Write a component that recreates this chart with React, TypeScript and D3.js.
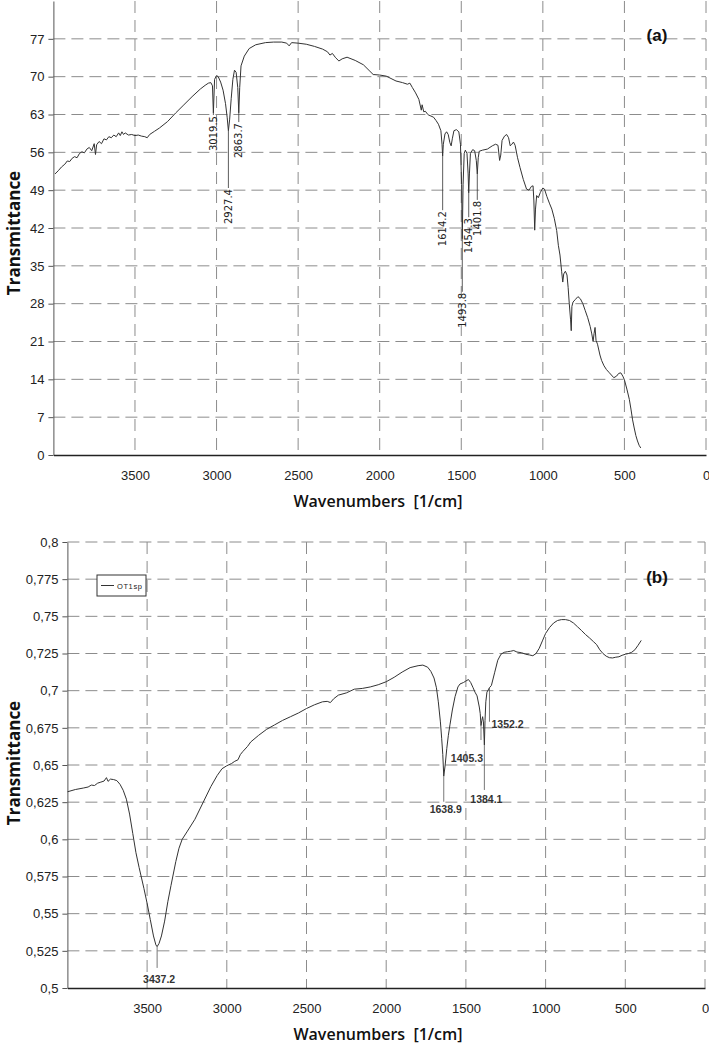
import React, { useRef, useEffect } from 'react';
import * as d3 from 'd3';

// Spectrum (a) - wavenumber [1/cm] / transmittance
const wnA = [3990, 3970, 3950, 3930, 3915, 3900, 3885, 3870, 3855, 3840, 3825, 3810, 3795, 3780, 3765, 3750, 3742, 3735, 3720, 3705, 3690, 3675, 3660, 3645, 3630, 3615, 3600, 3590, 3580, 3570, 3560, 3540, 3520, 3500, 3480, 3460, 3440, 3425, 3410, 3380, 3350, 3300, 3250, 3200, 3150, 3100, 3070, 3050, 3035, 3025, 3019.5, 3012, 3000, 2990, 2975, 2960, 2945, 2935, 2927.4, 2920, 2910, 2900, 2890, 2880, 2870, 2863.7, 2858, 2850, 2830, 2800, 2760, 2700, 2650, 2600, 2570, 2555, 2540, 2500, 2450, 2400, 2350, 2320, 2305, 2290, 2270, 2250, 2230, 2200, 2150, 2100, 2060, 2040, 2000, 1960, 1900, 1860, 1830, 1815, 1800, 1780, 1760, 1745, 1740, 1730, 1720, 1705, 1700, 1670, 1655, 1640, 1625, 1618, 1614.2, 1610, 1600, 1590, 1580, 1570, 1562, 1555, 1545, 1530, 1515, 1505, 1498, 1493.8, 1489, 1482, 1475, 1465, 1458, 1454.3, 1450, 1444, 1430, 1418, 1408, 1401.8, 1396, 1390, 1370, 1340, 1310, 1290, 1275, 1265, 1258, 1250, 1235, 1222, 1210, 1200, 1190, 1180, 1170, 1155, 1140, 1120, 1100, 1085, 1070, 1060, 1055, 1050, 1045, 1038, 1028, 1015, 1000, 990, 975, 960, 945, 930, 915, 905, 895, 885, 878, 872, 862, 852, 845, 838, 830, 826, 822, 815, 800, 785, 770, 755, 740, 725, 710, 700, 692, 686, 680, 674, 665, 650, 640, 625, 610, 595, 580, 565, 548, 535, 522, 510, 500, 485, 470, 460, 450, 440, 430, 420, 410, 400];
const tA = [52.0, 52.6, 53.3, 53.8, 54.4, 54.3, 54.9, 55.2, 55.0, 55.8, 56.1, 55.9, 56.6, 56.9, 56.3, 57.6, 55.6, 57.4, 58.0, 57.6, 58.5, 58.3, 58.9, 58.7, 59.2, 58.9, 59.6, 59.1, 59.8, 59.3, 59.6, 59.2, 59.3, 59.1, 59.2, 59.0, 58.9, 58.7, 59.3, 59.9, 60.5, 61.7, 63.3, 64.8, 66.3, 67.7, 68.4, 68.8, 68.9, 68.3, 63.3, 69.5, 70.2, 70.0, 69.0, 67.5, 65.0, 62.5, 60.0, 62.0, 66.0, 69.5, 71.2, 70.8, 68.0, 63.3, 68.0, 72.0, 73.8, 75.2, 75.9, 76.3, 76.4, 76.4, 76.2, 75.7, 76.3, 76.2, 76.0, 75.6, 75.1, 74.6, 74.0, 74.3, 73.5, 72.9, 73.3, 73.6, 73.0, 72.2, 71.0, 70.4, 70.3, 70.1, 69.2, 68.9, 68.6, 68.8, 68.0, 67.0, 65.8, 63.8, 64.8, 63.5, 63.6, 63.0, 62.9, 62.5, 61.9, 61.2, 60.0, 57.5, 55.3, 57.5, 59.4, 59.8, 59.3, 57.8, 57.2, 58.5, 60.0, 60.2, 59.8, 57.5, 50.0, 40.0, 50.0, 55.8, 56.4, 55.8, 52.0, 48.5, 52.0, 55.8, 56.5, 56.3, 54.5, 52.0, 55.0, 56.2, 56.4, 56.6, 57.2, 57.5, 57.3, 54.5, 55.5, 58.2, 59.0, 59.3, 58.7, 57.2, 57.5, 57.9, 57.3, 55.0, 53.2, 51.0, 49.2, 49.0, 49.7, 49.8, 47.0, 41.6, 45.5, 48.0, 47.6, 48.6, 49.4, 49.2, 47.8, 46.6, 45.5, 43.8, 41.5, 38.8, 37.0, 34.0, 32.0, 33.5, 34.0, 33.3, 31.0, 28.0, 25.0, 23.0, 27.5, 28.3, 28.8, 29.3, 28.9, 28.0, 26.7, 25.4, 23.8, 22.4, 21.0, 22.5, 23.6, 21.2, 20.5, 18.5, 17.5, 16.5, 15.8, 15.3, 14.8, 14.3, 14.6, 15.1, 15.2, 14.6, 13.9, 12.2, 10.3, 8.5, 6.5, 5.0, 3.6, 2.6, 1.8, 1.3];

// Spectrum (b) - OT1sp
const wnB = [3999, 3950, 3900, 3870, 3850, 3830, 3810, 3790, 3770, 3755, 3745, 3730, 3710, 3690, 3670, 3650, 3630, 3610, 3590, 3570, 3550, 3520, 3500, 3480, 3460, 3445, 3437.2, 3425, 3410, 3390, 3370, 3350, 3320, 3300, 3280, 3250, 3200, 3150, 3100, 3060, 3030, 3000, 2970, 2950, 2930, 2915, 2900, 2870, 2850, 2800, 2750, 2700, 2650, 2600, 2550, 2500, 2450, 2400, 2370, 2350, 2330, 2300, 2250, 2200, 2150, 2100, 2050, 2000, 1950, 1900, 1850, 1800, 1770, 1740, 1720, 1700, 1685, 1673, 1660, 1652, 1645, 1638.9, 1630, 1620, 1610, 1600, 1585, 1568, 1550, 1537, 1515, 1500, 1484, 1470, 1455, 1443, 1430, 1416, 1410, 1405.3, 1400, 1395, 1390, 1384.1, 1380, 1375, 1368, 1360, 1352.2, 1340, 1320, 1300, 1280, 1260, 1240, 1220, 1200, 1180, 1150, 1125, 1100, 1080, 1060, 1040, 1020, 1000, 975, 950, 925, 900, 875, 850, 825, 800, 775, 750, 725, 700, 680, 660, 640, 620, 600, 580, 560, 540, 520, 500, 480, 460, 440, 420, 400];
const tB = [0.632, 0.6335, 0.6345, 0.6352, 0.6365, 0.6362, 0.6378, 0.6385, 0.6392, 0.6415, 0.639, 0.6405, 0.6402, 0.6395, 0.637, 0.633, 0.627, 0.617, 0.604, 0.591, 0.581, 0.567, 0.557, 0.546, 0.535, 0.529, 0.5278, 0.530, 0.535, 0.545, 0.558, 0.569, 0.585, 0.594, 0.600, 0.605, 0.6135, 0.6245, 0.6355, 0.643, 0.6475, 0.6495, 0.651, 0.6525, 0.6535, 0.657, 0.659, 0.6625, 0.6655, 0.670, 0.674, 0.677, 0.680, 0.6825, 0.685, 0.688, 0.6905, 0.6925, 0.6928, 0.692, 0.6945, 0.697, 0.6985, 0.701, 0.7015, 0.7025, 0.704, 0.706, 0.709, 0.7125, 0.7155, 0.7168, 0.7172, 0.7158, 0.713, 0.7085, 0.702, 0.6925, 0.679, 0.668, 0.657, 0.6425, 0.650, 0.661, 0.670, 0.677, 0.687, 0.696, 0.7025, 0.7045, 0.7055, 0.7065, 0.7075, 0.7055, 0.702, 0.699, 0.6965, 0.689, 0.6845, 0.6765, 0.680, 0.6825, 0.679, 0.6635, 0.680, 0.6925, 0.699, 0.7005, 0.702, 0.7035, 0.712, 0.7205, 0.7245, 0.7258, 0.7262, 0.7265, 0.727, 0.726, 0.7255, 0.7245, 0.724, 0.7235, 0.725, 0.7285, 0.7335, 0.7385, 0.7425, 0.7455, 0.7472, 0.7478, 0.7478, 0.7472, 0.7455, 0.743, 0.7405, 0.7378, 0.7355, 0.733, 0.731, 0.7275, 0.725, 0.7232, 0.7222, 0.722, 0.7225, 0.7228, 0.7238, 0.7245, 0.725, 0.7258, 0.7275, 0.7305, 0.7338];

// ticks
const xTicks = [3500, 3000, 2500, 2000, 1500, 1000, 500, 0];
const yTicksA = [0, 7, 14, 21, 28, 35, 42, 49, 56, 63, 70, 77];
const yTicksB = [0.5, 0.525, 0.55, 0.575, 0.6, 0.625, 0.65, 0.675, 0.7, 0.725, 0.75, 0.775, 0.8];

// peak annotations (a): wavenumber, where the rotated label ends (transmittance)
const peaksA = ['3019.5', '2927.4', '2863.7', '1614.2', '1493.8', '1454.3', '1401.8'];
const peakLabelA = [62.9, 49.4, 61.6, 45.3, 30.2, 44.0, 47.2];

// peak annotations (b): wavenumber, leader end, label baseline, anchor
const peaksB = ['3437.2', '1638.9', '1405.3', '1384.1', '1352.2'];
const leaderEndB = [0.5135, 0.6253, 0.6668, 0.6332, 0.6791];
const labelBaseB = [0.5034, 0.6177, 0.652, 0.6244, 0.6749];
const anchorB = ['middle', 'middle', 'end', 'middle', 'start'];

const tickFont = '"Liberation Sans Narrow", "Arial Narrow", "Liberation Sans", Arial, sans-serif';
const titleFont = '"Open Sans", "Noto Sans", sans-serif';
const gridColor = '#8c8c8c';
const lineColor = '#333';

const fmtComma = (v: number) => String(+v.toFixed(3)).replace('.', ',');

const App: React.FC = () => {
  const svgRef = useRef<SVGSVGElement>(null);

  useEffect(() => {
    if (!svgRef.current) return;
    const svg = d3.select(svgRef.current);
    svg.selectAll('*').remove();

    svg.append('rect').attr('width', 709).attr('height', 1059).attr('fill', '#fff');

    const drawPanel = (opts: {
      x: d3.ScaleLinear<number, number>;
      y: d3.ScaleLinear<number, number>;
      yTicks: number[];
      fmt: (v: number) => string;
      wn: number[];
      t: number[];
      tag: string;
      tagY: number;
      titleY: number;
      labelY: number;
    }) => {
      const { x, y, yTicks, fmt, wn, t } = opts;
      const [left, right] = x.range();
      const [bottom, top] = y.range();
      const g = svg.append('g');

      // horizontal grid
      g.selectAll('line.hg')
        .data(yTicks.filter(v => v !== y.domain()[0]))
        .enter()
        .append('line')
        .attr('x1', left)
        .attr('x2', right)
        .attr('y1', d => y(d))
        .attr('y2', d => y(d))
        .attr('stroke', gridColor)
        .attr('stroke-dasharray', '12,6');

      // vertical grid
      g.selectAll('line.vg')
        .data(xTicks)
        .enter()
        .append('line')
        .attr('x1', d => x(d))
        .attr('x2', d => x(d))
        .attr('y1', top)
        .attr('y2', bottom)
        .attr('stroke', gridColor)
        .attr('stroke-dasharray', '12,7');

      // axes
      const yAxis = d3.axisLeft(y).tickValues(yTicks).tickFormat(d => fmt(+d)).tickSize(5).tickSizeOuter(0).tickPadding(4);
      const ya = g.append('g').attr('transform', `translate(${left},0)`).call(yAxis);
      ya.select('.domain').attr('stroke', '#555');
      ya.selectAll('line').attr('stroke', '#555');
      ya.selectAll('text').attr('font-family', tickFont).attr('font-size', 13).attr('fill', '#222');

      const xAxis = d3.axisBottom(x).tickValues(xTicks).tickFormat(d3.format('d')).tickSize(0).tickSizeOuter(0).tickPadding(0);
      const xa = g.append('g').attr('transform', `translate(0,${bottom})`).call(xAxis);
      xa.select('.domain').attr('stroke', '#222').attr('stroke-width', 1.5);
      xa.selectAll('text')
        .attr('font-family', tickFont)
        .attr('font-size', 13)
        .attr('fill', '#222')
        .attr('dy', null)
        .attr('y', 25);

      // spectrum
      const line = d3.line<number>()
        .x((d, i) => x(wn[i]))
        .y(d => y(d));
      g.append('path')
        .datum(t)
        .attr('fill', 'none')
        .attr('stroke', lineColor)
        .attr('stroke-width', 1)
        .attr('stroke-linejoin', 'round')
        .attr('d', line);

      // titles
      g.append('text')
        .attr('x', 378)
        .attr('y', opts.titleY)
        .attr('text-anchor', 'middle')
        .attr('font-family', titleFont)
        .attr('font-weight', 600)
        .attr('font-size', 16)
        .attr('fill', '#111')
        .style('white-space', 'pre')
        .text('Wavenumbers  [1/cm]');

      g.append('text')
        .attr('transform', `translate(20,${opts.labelY}) rotate(-90)`)
        .attr('text-anchor', 'middle')
        .attr('font-family', titleFont)
        .attr('font-weight', 700)
        .attr('font-size', 17)
        .attr('fill', '#111')
        .text('Transmittance');

      g.append('text')
        .attr('x', 657)
        .attr('y', opts.tagY)
        .attr('text-anchor', 'middle')
        .attr('font-family', '"Liberation Sans", Arial, sans-serif')
        .attr('font-weight', 700)
        .attr('font-size', 17)
        .attr('fill', '#111')
        .text(opts.tag);

      return g;
    };

    // (a)
    const xA = d3.scaleLinear().domain([4000, 0]).range([53.4, 706]);
    const yA = d3.scaleLinear().domain([0, 84]).range([455, 1]);
    const gA = drawPanel({ x: xA, y: yA, yTicks: yTicksA, fmt: v => String(v), wn: wnA, t: tA, tag: '(a)', tagY: 41, titleY: 507, labelY: 233 });

    peaksA.forEach((p, i) => {
      const w = +p;
      const idx = wnA.indexOf(w);
      const px = xA(w);
      gA.append('line')
        .attr('x1', px).attr('x2', px)
        .attr('y1', yA(tA[idx]))
        .attr('y2', yA(peakLabelA[i]))
        .attr('stroke', lineColor)
        .attr('stroke-width', 0.8);
      gA.append('text')
        .attr('transform', `translate(${px},${yA(peakLabelA[i]) + 1}) rotate(-90)`)
        .attr('text-anchor', 'end')
        .attr('dy', '0.36em')
        .attr('font-family', '"DejaVu Sans", Verdana, sans-serif')
        .attr('font-size', 10)
        .attr('fill', '#222')
        .text(p);
    });

    // (b)
    const xB = d3.scaleLinear().domain([4000, 0]).range([67.4, 705]);
    const yB = d3.scaleLinear().domain([0.5, 0.8]).range([988, 542]);
    const gB = drawPanel({ x: xB, y: yB, yTicks: yTicksB, fmt: fmtComma, wn: wnB, t: tB, tag: '(b)', tagY: 583, titleY: 1040, labelY: 763 });

    peaksB.forEach((p, i) => {
      const w = +p;
      const idx = wnB.indexOf(w);
      const px = xB(w);
      gB.append('line')
        .attr('x1', px).attr('x2', px)
        .attr('y1', yB(tB[idx]))
        .attr('y2', yB(leaderEndB[i]))
        .attr('stroke', '#555')
        .attr('stroke-width', 0.8);
      const a = anchorB[i];
      gB.append('text')
        .attr('x', px + 2)
        .attr('y', yB(labelBaseB[i]))
        .attr('text-anchor', a)
        .attr('font-family', tickFont)
        .attr('font-size', 10.5)
        .attr('font-weight', 700)
        .attr('fill', '#333')
        .text(p);
    });

    // legend
    const lg = gB.append('g');
    lg.append('rect')
      .attr('x', 97).attr('y', 575).attr('width', 49).attr('height', 21)
      .attr('fill', '#fff').attr('stroke', '#333').attr('stroke-width', 1);
    lg.append('line')
      .attr('x1', 101).attr('x2', 114).attr('y1', 585.5).attr('y2', 585.5)
      .attr('stroke', lineColor).attr('stroke-width', 1);
    lg.append('text')
      .attr('x', 117).attr('y', 588.5)
      .attr('font-family', '"Liberation Sans", Arial, sans-serif')
      .attr('font-size', 7.5)
      .attr('letter-spacing', 0.6)
      .attr('fill', '#222')
      .text('OT1sp');
  }, []);

  return (
    <div style={{ position: 'absolute', left: 0, top: 0, width: 709, height: 1059, background: '#fff' }}>
      <svg ref={svgRef} width={709} height={1059} />
    </div>
  );
};

export default App;
